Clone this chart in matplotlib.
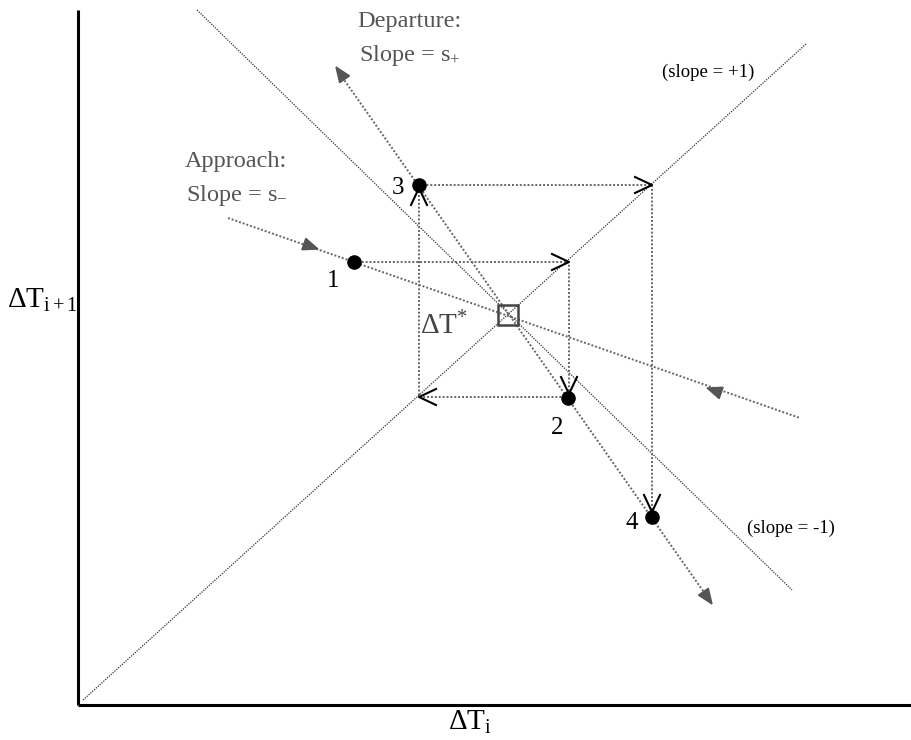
import numpy as np
import matplotlib
matplotlib.use("Agg")
import matplotlib.pyplot as plt
from matplotlib.patches import Polygon, Rectangle

plt.rcParams['font.family'] = ['Liberation Serif', 'DejaVu Serif']
plt.rcParams['mathtext.fontset'] = 'custom'
plt.rcParams['mathtext.rm'] = 'Liberation Serif'
plt.rcParams['mathtext.it'] = 'Liberation Serif:italic'

# --- geometry of the diagram (pixel-like coordinates, y downwards) ---
fixed_pt = (508, 315)
diag_pos_x = [83, 806]
diag_pos_y = [700, 44]
diag_neg_x = [197, 792]
diag_neg_y = [10, 590]
approach_x = [228, 800]
approach_y = [218, 418]
depart_x = [340, 708]
depart_y = [74, 598]

pts_x = [354, 568, 419, 652]
pts_y = [262, 398, 185, 517]
pts_lbl = ['1', '2', '3', '4']
lbl_x = [333, 557, 398, 632]
lbl_y = [281, 428, 188, 523]

cob_x = [354, 569, 569, 419, 419, 652, 652]
cob_y = [262, 262, 397, 397, 185, 185, 514]

# triangles on approach / departure lines: tip and direction
tri_tip = [(318, 249), (707, 388), (336, 67), (712, 604)]
tri_dir = [(1, 0.35), (-1, -0.35), (-1, -1.43), (1, 1.43)]

# --- figure ---
fig = plt.figure(figsize=(9.12, 7.40), dpi=100)
ax = fig.add_axes([0, 0, 1, 1])
ax.set_xlim(0, 912)
ax.set_ylim(740, 0)
ax.axis('off')

# axes frame
ax.plot([78, 78], [10, 705], color='black', lw=2.2, solid_capstyle='butt')
ax.plot([78, 912], [705, 705], color='black', lw=2.2, solid_capstyle='butt')

# slope +1 / -1 reference lines
ax.plot(diag_pos_x, diag_pos_y, color='#333333', lw=0.9, ls=(0, (1, 1)))
ax.plot(diag_neg_x, diag_neg_y, color='#333333', lw=0.9, ls=(0, (1, 1)))

# approach / departure lines
ax.plot(approach_x, approach_y, color='#666666', lw=1.4, ls=(0, (1, 1)))
ax.plot(depart_x, depart_y, color='#666666', lw=1.4, ls=(0, (1, 1)))

# cobweb
ax.plot(cob_x, cob_y, color='#666666', lw=1.4, ls=(0, (1, 1)))


def chevron(tip, d, length=17, half=8):
    d = np.array(d, float) / np.hypot(*d)
    n = np.array([-d[1], d[0]])
    t = np.array(tip, float)
    base = t - d * length
    a = base + n * half
    b = base - n * half
    ax.plot([a[0], t[0], b[0]], [a[1], t[1], b[1]], color='black', lw=1.5)


def triangle(tip, d, length=15, half=6):
    d = np.array(d, float) / np.hypot(*d)
    n = np.array([-d[1], d[0]])
    t = np.array(tip, float)
    base = t - d * length
    ax.add_patch(Polygon([t, base + n * half, base - n * half],
                         closed=True, color='#555555', zorder=3))


# cobweb arrowheads
chevron((569, 262), (1, 0))
chevron((569, 394), (0, 1))
chevron((419, 397), (-1, 0))
chevron((419, 188), (0, -1))
chevron((652, 185), (1, 0))
chevron((652, 512), (0, 1))

for tip, d in zip(tri_tip, tri_dir):
    triangle(tip, d)

# points
ax.scatter(pts_x, pts_y, s=90, color='black', zorder=5)
for lx, ly, t in zip(lbl_x, lbl_y, pts_lbl):
    ax.text(lx, ly, t, fontsize=18, ha='center', va='center', color='black')

# fixed point box
ax.add_patch(Rectangle((fixed_pt[0] - 10, fixed_pt[1] - 10), 20, 20,
                       fill=False, edgecolor='#444444', lw=1.8, zorder=4))
ax.text(444, 326, r'ΔT$^{*}$', fontsize=21, ha='center', va='center', color='#444444')

# annotations
ax.text(357, 22, 'Departure:', fontsize=17.5, ha='left', va='center', color='#555555')
ax.text(359, 56, r'Slope = s$_{+}$', fontsize=17.5, ha='left', va='center', color='#555555')
ax.text(185, 162, 'Approach:', fontsize=17.5, ha='left', va='center', color='#555555')
ax.text(186, 196, r'Slope = s$_{-}$', fontsize=17.5, ha='left', va='center', color='#555555')

ax.text(708, 72, '(slope = +1)', fontsize=13.5, ha='center', va='center', color='black')
ax.text(791, 528, '(slope = -1)', fontsize=13.5, ha='center', va='center', color='black')

# axis labels
ax.text(42, 300, r'ΔT$_{\mathrm{i+1}}$', fontsize=21, ha='center', va='center', color='black')
ax.text(470, 722, r'ΔT$_{\mathrm{i}}$', fontsize=21, ha='center', va='center', color='black')

fig.savefig('out.png', dpi=100)
